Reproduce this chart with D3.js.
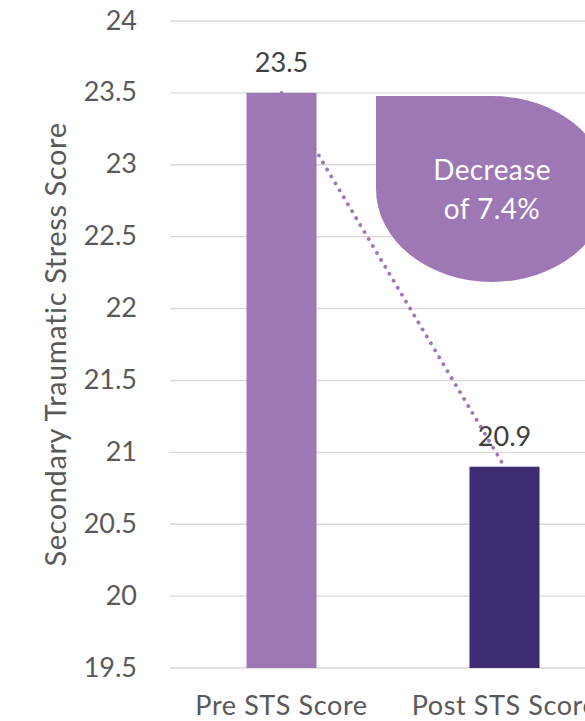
<!DOCTYPE html>
<html>
<head>
<meta charset="utf-8">
<script src="https://cdn.jsdelivr.net/npm/d3@7"></script>
<style>
  body { margin: 0; background: #fff; }
  svg { display: block; font-family: Lato, "Open Sans", sans-serif; }
</style>
</head>
<body>
<div id="chart"></div>
<script>
// chart data
const categories = ["Pre STS Score", "Post STS Score"];
const scores = [23.5, 20.9];
const barColors = ["#9e77b5", "#3f2d74"];
const yTicks = [19.5, 20, 20.5, 21, 21.5, 22, 22.5, 23, 23.5, 24];
const calloutLines = ["Decrease", "of 7.4%"];

const width = 585, height = 721;
const margin = {top: 21, right: -31, bottom: 53, left: 170};

const svg = d3.select("#chart").append("svg")
    .attr("width", width)
    .attr("height", height);

// scales
const x = d3.scaleBand()
    .domain(categories)
    .range([margin.left, width - margin.right])
    .paddingInner(0.686)
    .paddingOuter(0.343);

const y = d3.scaleLinear()
    .domain([19.5, 24])
    .range([height - margin.bottom, margin.top]);

// gridlines
svg.append("g")
    .selectAll("line")
    .data(yTicks)
    .join("line")
    .attr("x1", margin.left)
    .attr("x2", width)
    .attr("y1", d => y(d))
    .attr("y2", d => y(d))
    .attr("stroke", "#d9d9d9")
    .attr("stroke-width", 1.4);

// y tick labels
const yAxis = d3.axisLeft(y).tickValues(yTicks).tickSize(0).tickPadding(0)
    .tickFormat(d3.format(""));
svg.append("g")
    .attr("transform", `translate(137,0)`)
    .call(yAxis)
    .call(g => g.select(".domain").remove())
    .call(g => g.selectAll("text")
        .attr("fill", "#595959")
        .attr("font-size", 27)
        .attr("font-family", "Lato, sans-serif")
        .attr("dy", null)
        .attr("y", 8));

// axis title
svg.append("text")
    .attr("transform", `translate(66,${(y(19.5) + y(24)) / 2}) rotate(-90)`)
    .attr("text-anchor", "middle")
    .attr("fill", "#595959")
    .attr("font-size", 29)
    .attr("letter-spacing", 0.6)
    .text("Secondary Traumatic Stress Score");

// dotted connector between bar tops
const line = d3.line()
    .x((d, i) => x(categories[i]) + x.bandwidth() / 2)
    .y(d => y(d));
svg.append("path")
    .datum(scores)
    .attr("d", line)
    .attr("fill", "none")
    .attr("stroke", "#9e77b5")
    .attr("stroke-width", 3.8)
    .attr("stroke-linecap", "round")
    .attr("stroke-dasharray", "0.1 8");

// callout shape (teardrop with square top-left corner)
const cx0 = 376, cy0 = 96, rx = 116, ry = 93;
const cxc = cx0 + rx, cyc = cy0 + ry;
svg.append("path")
    .attr("d", `M${cx0},${cy0} L${cxc},${cy0} A${rx},${ry} 0 0 1 ${cxc + rx},${cyc}
        A${rx},${ry} 0 0 1 ${cxc},${cyc + ry} A${rx},${ry} 0 0 1 ${cx0},${cyc} Z`)
    .attr("fill", "#9e77b5");

svg.append("g")
    .selectAll("text")
    .data(calloutLines)
    .join("text")
    .attr("x", cxc)
    .attr("y", (d, i) => 180 + i * 39)
    .attr("text-anchor", "middle")
    .attr("fill", "#fff")
    .attr("font-size", 28)
    .attr("letter-spacing", 0.4)
    .text(d => d);

// bars
svg.append("g")
    .selectAll("rect")
    .data(scores)
    .join("rect")
    .attr("x", (d, i) => x(categories[i]))
    .attr("y", d => y(d))
    .attr("width", x.bandwidth())
    .attr("height", d => y(19.5) - y(d))
    .attr("fill", (d, i) => barColors[i]);

// bar value labels
svg.append("g")
    .selectAll("text")
    .data(scores)
    .join("text")
    .attr("x", (d, i) => x(categories[i]) + x.bandwidth() / 2)
    .attr("y", d => y(d) - 21)
    .attr("text-anchor", "middle")
    .attr("fill", "#404040")
    .attr("font-size", 27)
    .text(d => d);

// category labels
svg.append("g")
    .selectAll("text")
    .data(categories)
    .join("text")
    .attr("x", d => x(d) + x.bandwidth() / 2)
    .attr("y", 715)
    .attr("text-anchor", "middle")
    .attr("fill", "#595959")
    .attr("font-size", 27)
    .attr("letter-spacing", 0.6)
    .text(d => d);
</script>
</body>
</html>
